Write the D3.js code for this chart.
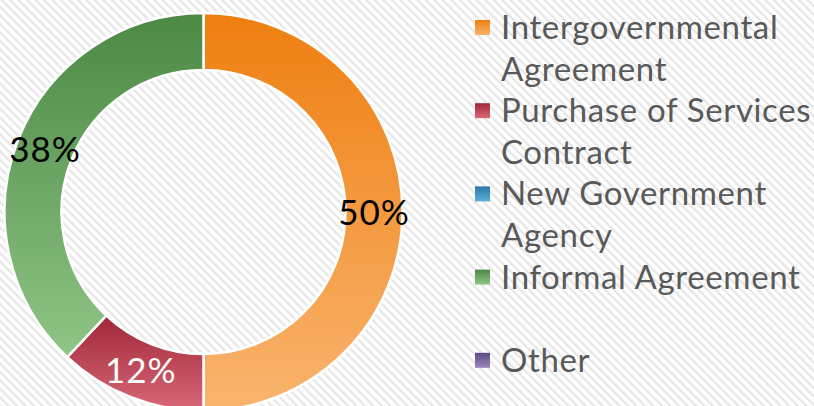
<!DOCTYPE html>
<html>
<head>
<meta charset="utf-8">
<script src="https://cdn.jsdelivr.net/npm/d3@7"></script>
<style>
  body { margin: 0; background: #fff; }
  svg { display: block; }
  text { font-family: Lato, "Open Sans", sans-serif; }
</style>
</head>
<body>
<div id="chart"></div>
<script>
// chart data
const categories = ["Intergovernmental Agreement", "Purchase of Services Contract", "New Government Agency", "Informal Agreement", "Other"];
const values = [50, 12, 0, 38, 0];
const topColors = ["#ee7f10", "#9e2838", "#2a78a6", "#4c8945", "#5d4985"];
const bottomColors = ["#f9b46e", "#d96878", "#5cacda", "#8fc585", "#9c88be"];

const width = 814, height = 406;

const svg = d3.select("#chart")
  .append("svg")
  .attr("width", width)
  .attr("height", height);

const defs = svg.append("defs");

// diagonal hatched background
const pat = defs.append("pattern")
  .attr("id", "hatch")
  .attr("patternUnits", "userSpaceOnUse")
  .attr("width", 6)
  .attr("height", 6)
  .attr("patternTransform", "rotate(-45)");
pat.append("rect").attr("width", 6).attr("height", 6).attr("fill", "#ffffff");
pat.append("rect").attr("width", 2.2).attr("height", 6).attr("fill", "#e6e6e6");

svg.append("rect")
  .attr("width", width)
  .attr("height", height)
  .attr("fill", "url(#hatch)");

// vertical gradients per category
categories.forEach((c, i) => {
  const g = defs.append("linearGradient")
    .attr("id", "grad" + i)
    .attr("x1", 0).attr("y1", 0).attr("x2", 0).attr("y2", 1);
  g.append("stop").attr("offset", "0%").attr("stop-color", topColors[i]);
  g.append("stop").attr("offset", "100%").attr("stop-color", bottomColors[i]);
});

// donut
const cx = 203.5, cy = 212, outerR = 199, innerR = 142;
const total = d3.sum(values);

const pie = d3.pie().sort(null).value(d => d.value);
const arc = d3.arc().innerRadius(innerR).outerRadius(outerR);
const labelArc = d3.arc().innerRadius((innerR + outerR) / 2).outerRadius((innerR + outerR) / 2);

const data = categories.map((c, i) => ({ name: c, value: values[i], idx: i }));
const arcs = pie(data).filter(d => d.data.value > 0);

const donut = svg.append("g")
  .attr("transform", "translate(" + cx + "," + cy + ")");

donut.selectAll("path")
  .data(arcs)
  .enter()
  .append("path")
  .attr("d", arc)
  .attr("fill", d => "url(#grad" + d.data.idx + ")")
  .attr("stroke", "#ffffff")
  .attr("stroke-width", 2.5);

const fmt = d3.format(".0%");
donut.selectAll("text")
  .data(arcs)
  .enter()
  .append("text")
  .attr("x", d => labelArc.centroid(d)[0])
  .attr("y", d => labelArc.centroid(d)[1])
  .attr("text-anchor", "middle")
  .attr("dy", "0.36em")
  .attr("font-size", 35)
  .attr("letter-spacing", 1)
  .attr("fill", d => d.data.idx === 1 ? "#ffffff" : "#000000")
  .text(d => fmt(d.data.value / total));

// legend
const lineH = 41.6;
const legend = svg.append("g").attr("transform", "translate(475,0)");
const maxW = 325;

categories.forEach((c, i) => {
  const baseY = 39 + i * 2 * lineH;
  legend.append("rect")
    .attr("x", 0)
    .attr("y", baseY - 19)
    .attr("width", 15)
    .attr("height", 15)
    .attr("fill", "url(#grad" + i + ")");

  // wrap words into lines
  const t = legend.append("text")
    .attr("x", 26)
    .attr("y", baseY)
    .attr("font-size", 33)
    .attr("letter-spacing", 0.65)
    .attr("fill", "#595959");
  const words = c.split(" ");
  let line = [];
  let lineNo = 0;
  let tspan = t.append("tspan").attr("x", 26).attr("y", baseY);
  words.forEach(w => {
    line.push(w);
    tspan.text(line.join(" "));
    if (tspan.node().getComputedTextLength() > maxW && line.length > 1) {
      line.pop();
      tspan.text(line.join(" "));
      line = [w];
      lineNo++;
      tspan = t.append("tspan").attr("x", 26).attr("y", baseY + lineNo * lineH).text(w);
    }
  });
});
</script>
</body>
</html>
